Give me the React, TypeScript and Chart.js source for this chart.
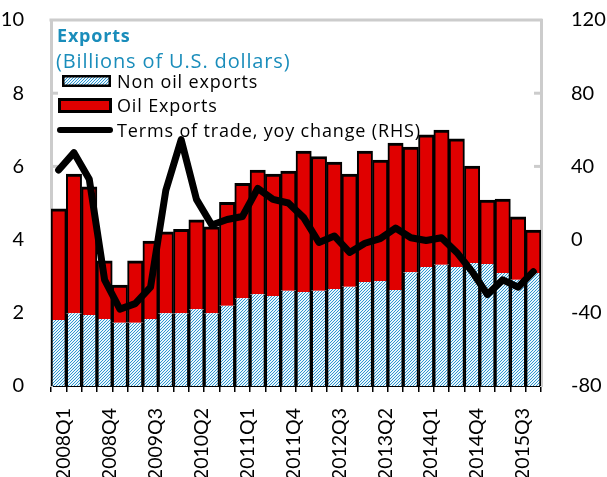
import { useEffect, useRef } from 'react';
import { Chart, registerables } from 'chart.js';

Chart.register(...registerables);

const categories = [
  '2008Q1', '2008Q2', '2008Q3', '2008Q4',
  '2009Q1', '2009Q2', '2009Q3', '2009Q4',
  '2010Q1', '2010Q2', '2010Q3', '2010Q4',
  '2011Q1', '2011Q2', '2011Q3', '2011Q4',
  '2012Q1', '2012Q2', '2012Q3', '2012Q4',
  '2013Q1', '2013Q2', '2013Q3', '2013Q4',
  '2014Q1', '2014Q2', '2014Q3', '2014Q4',
  '2015Q1', '2015Q2', '2015Q3', '2015Q4',
];

// Billions of U.S. dollars
const nonOilExports = [
  1.80, 1.99, 1.94, 1.83, 1.73, 1.73, 1.83, 1.99,
  1.99, 2.10, 1.99, 2.19, 2.40, 2.51, 2.46, 2.60,
  2.57, 2.60, 2.65, 2.71, 2.84, 2.87, 2.62, 3.11,
  3.25, 3.31, 3.25, 3.36, 3.33, 3.09, 2.90, 3.09,
];

const oilExports = [
  3.04, 3.80, 3.50, 1.59, 1.03, 1.69, 2.13, 2.22,
  2.29, 2.44, 2.36, 2.83, 3.14, 3.39, 3.33, 3.27,
  3.85, 3.67, 3.47, 3.08, 3.58, 3.30, 4.02, 3.42,
  3.61, 3.68, 3.50, 2.65, 1.75, 2.02, 1.72, 1.17,
];

// Terms of trade, yoy change (RHS)
const termsOfTrade = [
  38, 47.5, 33, -22, -38, -35, -26, 27,
  54.6, 22, 8, 11, 12.6, 28, 22, 20,
  12, -1.6, 2, -7, -2, 0.5, 6.3, 1,
  -0.5, 1, -7, -17.5, -30, -22, -26, -17.5,
];

const xTickLabels = [
  '2008Q1', '2008Q4', '2009Q3', '2010Q2', '2011Q1', '2011Q4',
  '2012Q3', '2013Q2', '2014Q1', '2014Q4', '2015Q3',
];

const leftAxis = { min: 0, max: 10, step: 2 };
const rightAxis = { min: -80, max: 120, step: 40 };

const titleText = 'Exports';
const subtitleText = '(Billions of U.S. dollars)';
const legendLabels = ['Non oil exports', 'Oil Exports', 'Terms of trade, yoy change (RHS)'];

const TICK_FONT = 'Lato, "Open Sans", sans-serif';
const TEXT_FONT = '"Open Sans", Lato, sans-serif';
const TEAL = '#1a8dbb';
const RED = '#e00000';
const GRAY = '#cccccc';

function makeHatch(): CanvasPattern | string {
  const c = document.createElement('canvas');
  c.width = 3;
  c.height = 3;
  const g = c.getContext('2d');
  if (!g) return '#abd6ed';
  g.fillStyle = '#e8f6fc';
  g.fillRect(0, 0, 3, 3);
  g.fillStyle = '#2f95cf';
  for (let y = 0; y < 3; y++) {
    for (let x = 0; x < 3; x++) {
      if ((x + y) % 3 === 0) g.fillRect(x, y, 1, 1);
    }
  }
  const p = g.createPattern(c, 'repeat');
  return p || '#abd6ed';
}

export default function App() {
  const ref = useRef<HTMLCanvasElement | null>(null);

  useEffect(() => {
    if (!ref.current) return;
    const hatch = makeHatch();

    const decor = {
      id: 'decor',
      beforeDatasetsDraw(chart: any) {
        const { ctx, chartArea } = chart;
        const { left, right, top } = chartArea;
        ctx.save();
        ctx.strokeStyle = GRAY;
        ctx.lineWidth = 3;
        ctx.beginPath();
        ctx.moveTo(left - 1.5, top);
        ctx.lineTo(right + 1.5, top);
        ctx.stroke();
        const yl = chart.scales.y;
        const yr = chart.scales.y1;
        for (let v = leftAxis.min + leftAxis.step; v < leftAxis.max; v += leftAxis.step) {
          const py = yl.getPixelForValue(v);
          ctx.beginPath();
          ctx.moveTo(left, py);
          ctx.lineTo(left + 7, py);
          ctx.stroke();
        }
        for (let v = rightAxis.min + rightAxis.step; v < rightAxis.max; v += rightAxis.step) {
          const py = yr.getPixelForValue(v);
          ctx.beginPath();
          ctx.moveTo(right, py);
          ctx.lineTo(right - 7, py);
          ctx.stroke();
        }
        ctx.restore();
      },
      afterDatasetsDraw(chart: any) {
        const { ctx } = chart;
        ctx.save();
        ctx.textBaseline = 'alphabetic';
        ctx.textAlign = 'left';
        ctx.fillStyle = TEAL;
        (ctx as any).letterSpacing = '0.8px';
        ctx.font = `bold 18px ${TEXT_FONT}`;
        ctx.fillText(titleText, 57, 42);
        (ctx as any).letterSpacing = '0.85px';
        ctx.font = `20px ${TEXT_FONT}`;
        ctx.fillText(subtitleText, 56, 68);

        ctx.fillStyle = hatch as any;
        ctx.fillRect(62, 75, 49, 12);
        ctx.strokeStyle = '#000';
        ctx.lineWidth = 2.5;
        ctx.strokeRect(63.25, 76.25, 46.5, 9.5);
        ctx.fillStyle = RED;
        ctx.fillRect(58, 98, 54, 15);
        ctx.lineWidth = 3;
        ctx.strokeRect(59.5, 99.5, 51, 12);
        ctx.lineWidth = 6;
        ctx.lineCap = 'round';
        ctx.beginPath();
        ctx.moveTo(60, 130);
        ctx.lineTo(110, 130);
        ctx.stroke();

        ctx.fillStyle = '#000';
        ctx.font = `18px ${TEXT_FONT}`;
        (ctx as any).letterSpacing = '0.85px';
        ctx.fillText(legendLabels[0], 117, 88);
        ctx.fillText(legendLabels[1], 117, 112);
        ctx.fillText(legendLabels[2], 117, 137);
        ctx.restore();
      },
    };

    const chart = new Chart(ref.current, {
      type: 'bar',
      data: {
        labels: categories,
        datasets: [
          {
            type: 'line',
            label: legendLabels[2],
            data: termsOfTrade,
            yAxisID: 'y1',
            borderColor: '#000',
            borderWidth: 7,
            pointRadius: 0,
            tension: 0,
            borderJoinStyle: 'round',
            borderCapStyle: 'round',
            order: 0,
          } as any,
          {
            label: legendLabels[0],
            data: nonOilExports,
            yAxisID: 'y',
            backgroundColor: hatch as any,
            borderColor: '#000',
            borderWidth: { left: 2, right: 2, top: 0, bottom: 0 },
            borderSkipped: false,
            barPercentage: 1,
            categoryPercentage: 1,
            order: 1,
          } as any,
          {
            label: legendLabels[1],
            data: oilExports,
            yAxisID: 'y',
            backgroundColor: RED,
            borderColor: '#000',
            borderWidth: { left: 2, right: 2, top: 3, bottom: 0 },
            borderSkipped: false,
            barPercentage: 1,
            categoryPercentage: 1,
            order: 1,
          } as any,
        ],
      },
      options: {
        responsive: false,
        animation: false,
        layout: { autoPadding: false, padding: { top: 20, left: 0, right: 0, bottom: 0 } },
        plugins: {
          legend: { display: false },
          tooltip: { enabled: false },
          title: { display: false },
        },
        scales: {
          x: {
            stacked: true,
            offset: true,
            grid: {
              display: true,
              drawOnChartArea: false,
              offset: true,
              tickLength: 6,
              color: '#000',
              lineWidth: 1.5,
            },
            border: { color: '#000', width: 2 },
            ticks: {
              autoSkip: false,
              maxRotation: 90,
              minRotation: 90,
              labelOffset: 5,
              padding: 16,
              color: '#000',
              font: { family: TICK_FONT, size: 19.5 },
              callback: (_v: any, i: number) =>
                xTickLabels.includes(categories[i]) ? categories[i] : '',
            },
            afterFit: (s: any) => {
              s.height = 91;
              s.paddingLeft = 0;
              s.paddingRight = 0;
            },
          },
          y: {
            stacked: true,
            position: 'left',
            min: leftAxis.min,
            max: leftAxis.max,
            grid: { display: false },
            border: { color: GRAY, width: 3 },
            ticks: {
              stepSize: leftAxis.step,
              padding: 19,
              color: '#000',
              font: { family: TICK_FONT, size: 20 },
            },
            afterFit: (s: any) => {
              s.width = 51;
              s.paddingTop = 0;
              s.paddingBottom = 0;
            },
          },
          y1: {
            position: 'right',
            min: rightAxis.min,
            max: rightAxis.max,
            grid: { display: false },
            border: { color: GRAY, width: 3 },
            ticks: {
              stepSize: rightAxis.step,
              padding: 22,
              color: '#000',
              font: { family: TICK_FONT, size: 20 },
            },
            afterFit: (s: any) => {
              s.width = 66;
              s.paddingTop = 0;
              s.paddingBottom = 0;
            },
          },
        },
      } as any,
      plugins: [decor],
    });

    return () => chart.destroy();
  }, []);

  return (
    <div style={{ position: 'absolute', left: 0, top: 0, width: 607, height: 477 }}>
      <canvas ref={ref} width={607} height={477} style={{ width: 607, height: 477 }} />
    </div>
  );
}
